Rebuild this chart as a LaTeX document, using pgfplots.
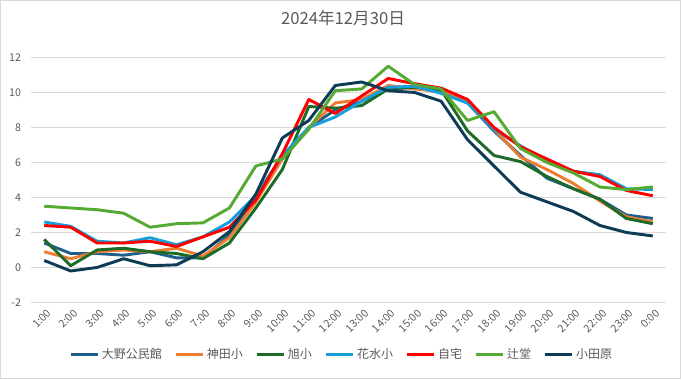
\documentclass[border=0pt]{standalone}
\usepackage{fontspec}
\setmainfont{Noto Sans CJK JP}
\usepackage{pgfplots}
\usepackage{pgfplotstable}
\pgfplotsset{compat=1.18}
\definecolor{cOono}{RGB}{31,95,140}
\definecolor{cKanda}{RGB}{237,125,49}
\definecolor{cAsahi}{RGB}{30,107,40}
\definecolor{cHana}{RGB}{21,160,220}
\definecolor{cJitaku}{RGB}{255,0,0}
\definecolor{cTsuji}{RGB}{84,170,50}
\definecolor{cOdawara}{RGB}{14,59,85}
\definecolor{txt}{RGB}{89,89,89}
\definecolor{gridc}{RGB}{217,217,217}
\pgfplotstableread{
i oono kanda asahi hana jitaku tsuji odawara
0 1.4 0.9 1.6 2.6 2.4 3.5 0.4
1 0.8 0.5 0.1 2.35 2.3 3.4 -0.2
2 0.8 0.9 1.0 1.5 1.4 3.3 0.0
3 0.7 1.0 1.1 1.4 1.4 3.1 0.5
4 0.9 0.9 0.9 1.7 1.5 2.3 0.1
5 0.55 1.1 0.8 1.3 1.2 2.5 0.15
6 0.55 0.65 0.5 1.75 1.75 2.55 0.9
7 1.85 1.7 1.4 2.6 2.3 3.4 2.05
8 4.0 3.75 3.4 4.1 3.85 5.8 4.2
9 6.3 6.2 5.6 6.4 6.5 6.2 7.4
10 8.0 8.0 9.2 8.0 9.6 7.9 8.4
11 9.0 9.4 9.1 8.6 8.8 10.1 10.4
12 9.5 9.6 9.25 9.5 9.8 10.2 10.6
13 10.2 10.4 10.2 10.3 10.8 11.5 10.1
14 10.3 10.2 10.3 10.35 10.5 10.45 10.0
15 10.0 10.05 10.15 9.95 10.25 10.2 9.5
16 9.4 9.5 7.8 9.4 9.6 8.4 7.3
17 7.8 7.9 6.4 7.9 8.0 8.9 5.8
18 6.4 6.3 6.05 6.95 6.9 6.8 4.3
19 5.1 5.6 5.2 6.1 6.2 6.0 3.75
20 4.5 4.8 4.5 5.5 5.5 5.4 3.2
21 3.9 3.8 3.9 5.3 5.2 4.6 2.4
22 3.0 2.9 2.8 4.5 4.4 4.45 2.0
23 2.8 2.6 2.5 4.45 4.1 4.6 1.8
}\data
\begin{document}
\begin{tikzpicture}
\useasboundingbox (0,0) rectangle (510.75pt,284.25pt);
\draw[gridc, line width=0.75pt] (0.4pt,0.4pt) rectangle (510.35pt,283.85pt);
\node[text=txt, font=\fontsize{12.5}{14}\selectfont] at (257.25pt,270.8pt) {2024年12月30日};
\begin{axis}[
  at={(23.25pt,57.4pt)}, anchor=south west,
  scale only axis, width=476.25pt, height=183.75pt,
  xmin=-0.5, xmax=23.5, ymin=-2, ymax=12,
  ytick={-2,0,...,12},
  xtick={0,...,23},
  xticklabels={1:00,2:00,3:00,4:00,5:00,6:00,7:00,8:00,9:00,10:00,11:00,12:00,13:00,14:00,15:00,16:00,17:00,18:00,19:00,20:00,21:00,22:00,23:00,0:00},
  axis line style={draw=none},
  major tick length=0pt,
  ymajorgrids, grid style={gridc, line width=0.75pt},
  /pgf/number format/assume math mode=true,
  tick label style={text=txt, font=\fontsize{8}{9}\selectfont},
  yticklabel style={xshift=-4pt},
  xticklabel style={xshift=4.5pt, yshift=-6pt, rotate=45, anchor=east, inner sep=1pt},
  legend style={at={(0.49,-0.214)}, anchor=center, draw=none, fill=none,
    legend columns=-1, font=\fontsize{9}{10}\selectfont, text=txt,
    /tikz/every even column/.append style={column sep=7.5pt},
    legend cell align=left},
  legend image code/.code={\draw[#1, line width=2.3pt] (0pt,0pt) -- (20pt,0pt);},
  every axis plot/.append style={line width=2.2pt, line join=round, no marks},
]
\addplot[cOono] table[x=i, y=oono] {\data};
\addplot[cKanda] table[x=i, y=kanda] {\data};
\addplot[cAsahi] table[x=i, y=asahi] {\data};
\addplot[cHana] table[x=i, y=hana] {\data};
\addplot[cJitaku] table[x=i, y=jitaku] {\data};
\addplot[cTsuji] table[x=i, y=tsuji] {\data};
\addplot[cOdawara] table[x=i, y=odawara] {\data};
\legend{大野公民館,神田小,旭小,花水小,自宅,辻堂,小田原}
\end{axis}
\end{tikzpicture}
\end{document}
